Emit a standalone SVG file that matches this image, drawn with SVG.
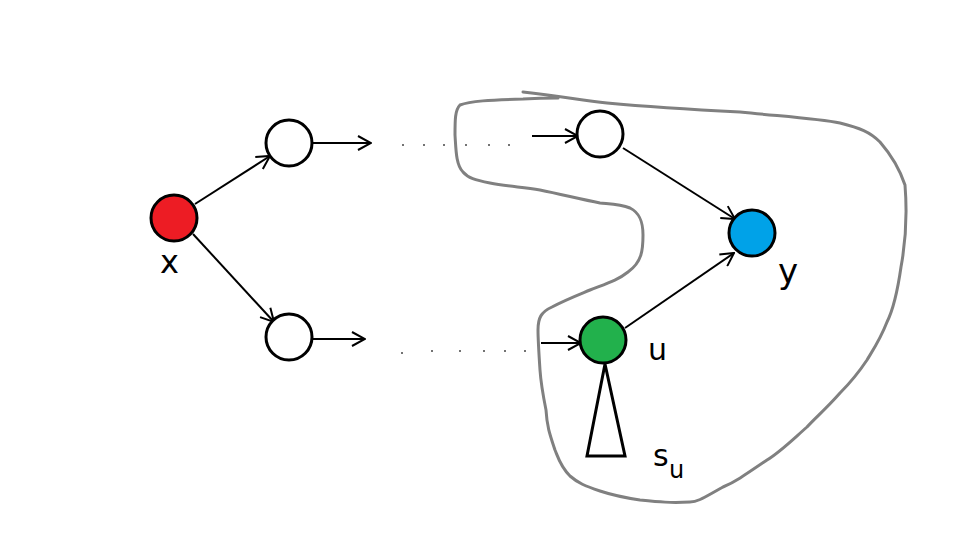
<svg xmlns="http://www.w3.org/2000/svg" width="960" height="540" viewBox="0 0 960 540">
<style>
.node{stroke:#000;stroke-width:3}
.edge{stroke:#000;stroke-width:2;fill:none}
.lbl{font-family:"DejaVu Sans",sans-serif;font-size:30px;fill:#000}
.dot{fill:#444}
</style>
<defs>
<marker id="ah" viewBox="0 0 16 16" refX="15" refY="8" markerWidth="16" markerHeight="16" markerUnits="userSpaceOnUse" orient="auto">
<path d="M2,1 L15,8 L2,15" fill="none" stroke="#000" stroke-width="2"/>
</marker>
</defs>
<rect width="960" height="540" fill="#fff"/>
<path id="region" d="M523,92 C560,96 580,100 607,103 C660,108 700,110 740,112 C790,117 820,119 840,123 C860,128 870,132 880,142 C893,157 900,170 905,185 C907,210 906,240 901,267 C897,295 893,310 887,322 C880,340 873,350 867,360 C855,378 848,385 840,393 C825,410 815,418 807,427 C790,442 780,452 767,460 C745,475 735,482 723,487 C705,497 698,502 690,502 C670,503 660,502 640,500 C620,497 612,495 600,491 C585,486 578,483 570,476 C560,466 558,457 555,450 C550,435 547,427 546,410 C543,395 541,385 540,370 C539,355 538,340 538,330 C538,318 541,312 552,307 C565,300 578,295 590,290 C608,283 618,280 628,272 C642,262 643,250 643,235 C643,222 640,213 630,208 C620,204 610,204 600,203 C580,199 560,194 540,190 C520,187 505,186 490,183 C475,180 468,178 463,172 C456,165 456,150 455,135 C455,120 455,110 460,105 C470,101 490,100 523,99 C540,98 550,98 558,98" fill="none" stroke="#808080" stroke-width="3" stroke-linecap="round"/>
<g id="connectors">
<line class="edge" x1="195" y1="204" x2="270" y2="156" marker-end="url(#ah)"/>
<line class="edge" x1="193" y1="234" x2="274" y2="322" marker-end="url(#ah)"/>
<line class="edge" x1="313" y1="143" x2="371" y2="143" marker-end="url(#ah)"/>
<line class="edge" x1="313" y1="339" x2="365" y2="339" marker-end="url(#ah)"/>
<line class="edge" x1="532" y1="136" x2="578" y2="136" marker-end="url(#ah)"/>
<line class="edge" x1="541" y1="343" x2="581" y2="343" marker-end="url(#ah)"/>
<line class="edge" x1="623" y1="148" x2="735" y2="219" marker-end="url(#ah)"/>
<line class="edge" x1="625" y1="328" x2="734" y2="253" marker-end="url(#ah)"/>
<g class="dot">
<circle cx="403" cy="145" r="1"/><circle cx="424" cy="145" r="1"/><circle cx="444" cy="145" r="1"/><circle cx="466" cy="145" r="1"/><circle cx="489" cy="145" r="1"/><circle cx="509" cy="145" r="1"/>
<circle cx="402" cy="353" r="1"/><circle cx="432" cy="351" r="1"/><circle cx="460" cy="351" r="1"/><circle cx="484" cy="351" r="1"/><circle cx="505" cy="351" r="1"/><circle cx="525" cy="351" r="1"/>
</g>
</g>
<g id="subtree">
<polygon points="605,364 587,456 625,456" fill="none" stroke="#000" stroke-width="3" stroke-linejoin="miter"/>
<text class="lbl" x="653" y="466">s</text>
<text class="lbl" x="669" y="478" style="font-size:24px">u</text>
</g>
<g id="node-x">
<circle class="node" cx="174" cy="218" r="23" fill="#ED1C24"/>
<text class="lbl" x="160" y="273" style="font-size:32px">x</text>
</g>
<g id="node-a">
<circle class="node" cx="289" cy="143" r="23" fill="#fff"/>
</g>
<g id="node-b">
<circle class="node" cx="289" cy="337" r="23" fill="#fff"/>
</g>
<g id="node-c">
<circle class="node" cx="600" cy="134" r="23" fill="#fff"/>
</g>
<g id="node-y">
<circle class="node" cx="752" cy="233" r="23" fill="#00A2E8"/>
<text class="lbl" x="778" y="283" style="font-size:34px">y</text>
</g>
<g id="node-u">
<circle class="node" cx="603" cy="340" r="23" fill="#22B14C"/>
<text class="lbl" x="648" y="360">u</text>
</g>
</svg>
